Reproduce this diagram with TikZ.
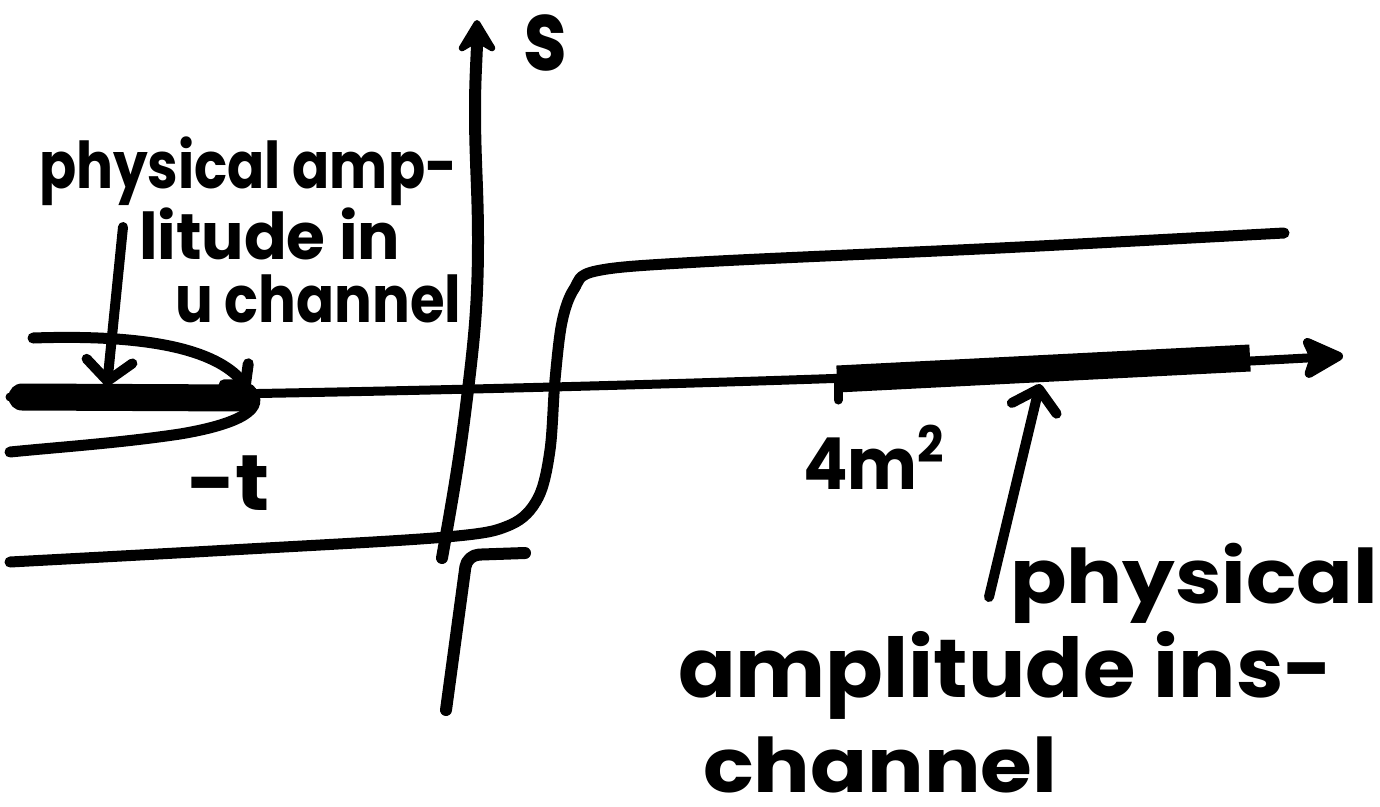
\documentclass[tikz,border=0pt]{standalone}
\usepackage{fontspec}
\setmainfont{Poppins}
\usetikzlibrary{arrows.meta}

% hand-lettered text: given width and x-height, sitting on its baseline
\newlength\handht
\newcommand\handtext[3]{%
  \sbox0{\bfseries #3}\sbox2{\bfseries x}%
  \setlength\handht{\dimexpr\ht0*\numexpr\dimexpr#2\relax\relax/\ht2\relax}%
  \resizebox{#1}{\handht}{\bfseries #3}}

\tikzset{
  axisline/.style={line width=12pt, line cap=round, line join=round},
  thinaxis/.style={line width=9pt, line cap=round, line join=round},
  contour/.style={line width=11pt, line cap=round, line join=round},
  cutbar/.style={line width=27pt, line cap=butt},
  pointer/.style={line width=10pt, line cap=round,
    -{Straight Barb[length=20pt,width=46pt,round]}},
  txt/.style={inner sep=0pt, outer sep=0pt, anchor=base west},
}

\begin{document}
\begin{tikzpicture}[x=1pt, y=-1pt]
\useasboundingbox (0,0) rectangle (1380,806);

% ---- s axis (vertical) ----
\coordinate (sBot) at (442,558);
\coordinate (sTip) at (477,20);
\draw[axisline, -{Stealth[length=40pt,width=48pt,inset=14pt,round]}]
  (sBot) to[out=80,in=-97] (467,398) to[out=83,in=-90] (478,240)
  to[out=90,in=-90] (475,110) to[out=90,in=-90] (sTip);
\node[txt] (sLab) at (523,70) {\handtext{44pt}{55pt}{s}};

% lower piece of the axis below the contour
\coordinate (gR) at (525,553);
\coordinate (gC) at (467,555);
\coordinate (gB) at (446,710);
\draw[axisline, rounded corners=12pt] (gR) -- (gC) -- (gB);

% ---- real axis (horizontal) ----
\coordinate (xL) at (10,397);
\coordinate (xR) at (1343,356);
\draw[thinaxis, -{Stealth[length=48pt,width=48pt,inset=9pt,round]}]
  (xL) .. controls (500,392) and (1000,375) .. (xR);

% cuts
\coordinate (cutLa) at (22,397);
\coordinate (cutLb) at (246,398);
\draw[line width=27pt, line cap=round] (cutLa) -- (cutLb);
\coordinate (cutRa) at (837,379);
\coordinate (cutRb) at (1250,358);
\draw[cutbar] (cutRa) -- (cutRb);
\draw[thinaxis] (838,382) -- (838,400);

% ---- contour around the left cut ----
\coordinate (hpTop) at (33,338);
\coordinate (hpTurn) at (249,389);
\coordinate (hpBot) at (10,452);
\draw[contour, -{Straight Barb[length=14pt,width=32pt,round]}]
  (hpTop) .. controls (150,334) and (215,350) .. (hpTurn);
\draw[contour]
  (hpTurn) .. controls (268,408) and (240,424) .. (180,434)
  .. controls (120,443) and (60,447) .. (hpBot);
\node[txt] (tLab) at (187,510) {\handtext{83pt}{44pt}{-t}};

% ---- deformed contour crossing to the right ----
\draw[contour] plot[smooth, tension=0.55] coordinates {
  (10,562) (230,550) (446,537) (510,525) (538,498) (550,450)
  (555,380) (562,322) (574,289) (596,271) (700,262) (1000,248) (1284,233)};

% threshold label
\node[txt] (mLab) at (803,489) {\handtext{144pt}{40pt}{4m\textsuperscript{2}}};

% ---- u-channel annotation ----
\node[txt] (uA) at (39,188) {\handtext{418pt}{36pt}{physical amp-}};
\node[txt] (uB) at (139,259) {\handtext{261pt}{36pt}{litude in}};
\node[txt] (uC) at (175,322) {\handtext{286pt}{36pt}{u channel}};
\coordinate (uFrom) at (123,227);
\coordinate (uTo) at (107,386);
\draw[pointer] (uFrom) -- (uTo);

% ---- s-channel annotation ----
\node[txt] (sA) at (1010,603) {\handtext{368pt}{42pt}{physical}};
\node[txt] (sB) at (678,697) {\handtext{655pt}{46pt}{amplitude ins-}};
\node[txt] (sC) at (703,792) {\handtext{354pt}{42pt}{channel}};
\coordinate (sFrom) at (989,597);
\coordinate (sTo) at (1040,384);
\draw[pointer] (sFrom) -- (sTo);
\end{tikzpicture}
\end{document}
